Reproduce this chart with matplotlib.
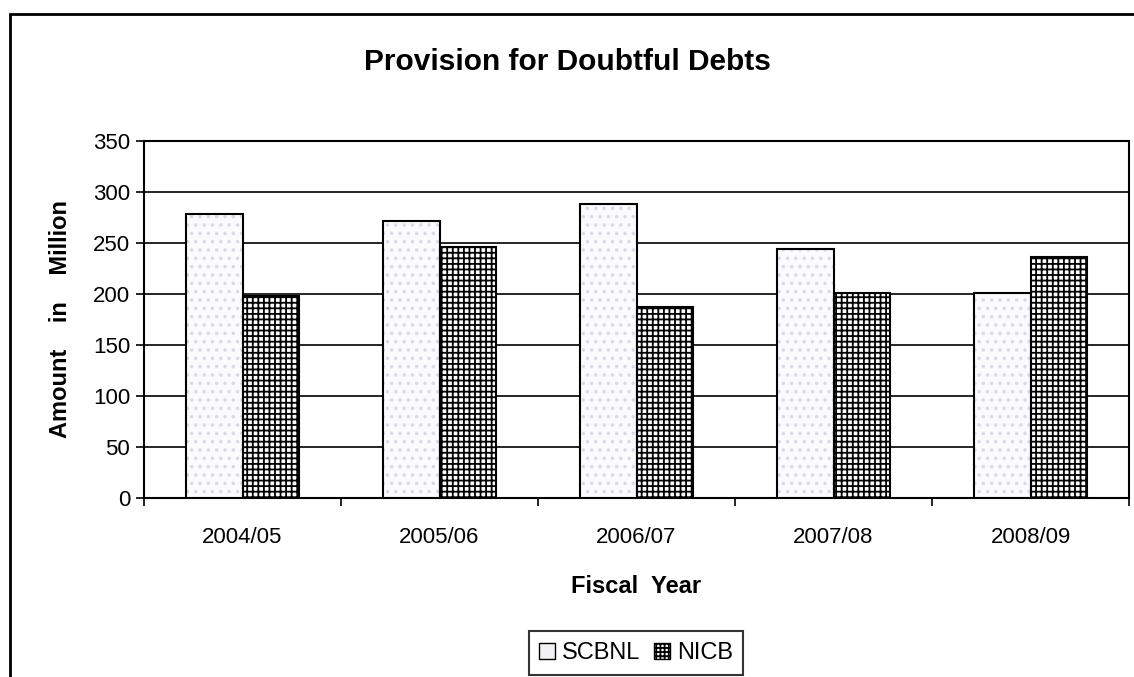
import numpy as np
import matplotlib
matplotlib.use("Agg")
import matplotlib.pyplot as plt
from matplotlib.patches import Rectangle, Patch

plt.rcParams.update({
    "font.family": ["Liberation Sans", "DejaVu Sans"],
    "hatch.linewidth": 1.3,
})

years = ["2004/05", "2005/06", "2006/07", "2007/08", "2008/09"]
scbnl = [278, 272, 288, 244, 201]
nicb = [198, 246, 187, 201, 236]
yticks = [0, 50, 100, 150, 200, 250, 300, 350]

W, H = 1134, 677
fig = plt.figure(figsize=(W / 100, H / 100), dpi=100)
ax = fig.add_axes([144 / W, 1 - 498 / H, (1129 - 144) / W, (498 - 141) / H])

x = np.arange(len(years))
bw = 1 / 3.5

# SCBNL: light dotted fill
ax.bar(x - bw / 2, scbnl, bw, color="#fbfbfd", edgecolor="#dadae4",
       hatch="..", linewidth=0, zorder=3)
ax.bar(x - bw / 2, scbnl, bw, fill=False, edgecolor="black", linewidth=1.5, zorder=4)
# NICB: dense grid
ax.bar(x + bw / 2, nicb, bw, color="white", edgecolor="black",
       hatch="+++", linewidth=0, zorder=3)
ax.bar(x + bw / 2, nicb, bw, fill=False, edgecolor="black", linewidth=1.5, zorder=4)

ax.set_xlim(-0.5, len(years) - 0.5)
ax.set_ylim(0, 350)
ax.set_yticks(yticks)
ax.yaxis.grid(True, color="black", linewidth=1.2)
ax.set_axisbelow(True)

ax.set_xticks(x)
ax.set_xticklabels(years, fontsize=16)
ax.set_xticks(np.arange(len(years) + 1) - 0.5, minor=True)
ax.tick_params(axis="x", which="major", length=0, pad=21)
ax.tick_params(axis="x", which="minor", length=6, width=1.2, direction="out")
ax.tick_params(axis="y", length=6, width=1.2, labelsize=16, pad=4)
for s in ax.spines.values():
    s.set_linewidth(1.5)
    s.set_color("black")

ax.set_ylabel("Amount    in    Million", fontsize=17, fontweight="bold", labelpad=15)
ax.set_xlabel("Fiscal  Year", fontsize=17, fontweight="bold", labelpad=19)
fig.text(0.5, 1 - 62 / H, "Provision for Doubtful Debts", ha="center", va="center",
         fontsize=21.5, fontweight="bold")

handles = [Patch(facecolor="#f2f2f4", edgecolor="black", linewidth=1),
           Patch(facecolor="white", edgecolor="black", hatch="++++", linewidth=1)]
leg = fig.legend(handles, ["SCBNL", "NICB"], loc="center", ncol=2,
                 bbox_to_anchor=(636 / W, 1 - 653 / H), fontsize=17,
                 frameon=True, fancybox=False, edgecolor="black",
                 handlelength=0.65, handleheight=0.65, handletextpad=0.3,
                 columnspacing=0.6, borderpad=0.45)
leg.get_frame().set_linewidth(1.5)

# outer chart frame
fig.patches.append(Rectangle((10 / W, -0.1), 2, 1 - 14 / H + 0.1, fill=False,
                             edgecolor="black", linewidth=2, transform=fig.transFigure))

fig.savefig("out.png", dpi=100)
